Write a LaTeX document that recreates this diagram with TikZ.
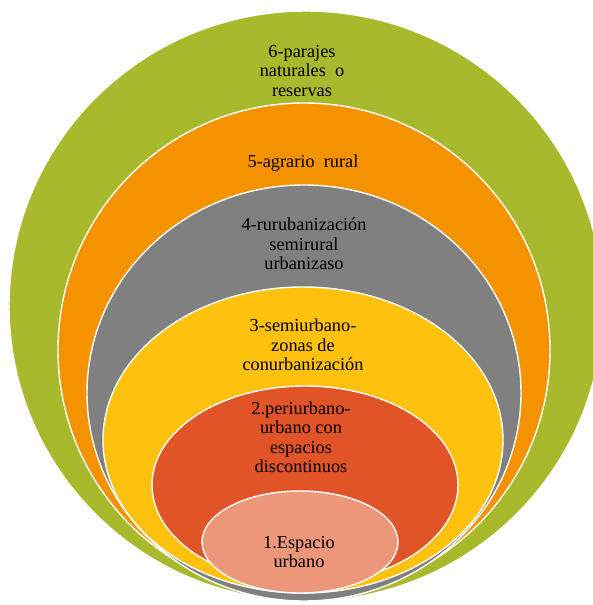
\documentclass[tikz,border=0pt]{standalone}
\usepackage{fontspec}
\setmainfont{Liberation Serif}
\definecolor{zgreen}{HTML}{A8B92C}
\definecolor{zorange}{HTML}{F59200}
\definecolor{zgray}{HTML}{808080}
\definecolor{zyellow}{HTML}{FEC10E}
\definecolor{zred}{HTML}{E05428}
\definecolor{zpink}{HTML}{EC967A}
\tikzset{
  ring/.style={draw=white, line width=1.4pt},
  label/.style={align=center, inner sep=0pt, text=black,
    font=\fontsize{18.3}{19.5}\selectfont},
}
\begin{document}
\begin{tikzpicture}[x=1pt, y=-1pt]
  \useasboundingbox (0,0) rectangle (593,605);
  % stacked zones, outermost first
  \fill[zgreen, ring]  (306,306) ellipse [x radius=297pt, y radius=295pt];
  \fill[zorange, ring] (304,350) ellipse [x radius=246pt, y radius=247pt];
  \fill[zgray, ring]   (304,393) ellipse [x radius=217pt, y radius=208pt];
  \fill[zyellow, ring] (303,440) ellipse [x radius=200pt, y radius=153pt];
  \fill[zred, ring]    (305,485) ellipse [x radius=153pt, y radius=99pt];
  \fill[zpink, ring]   (300,542) ellipse [x radius=98pt, y radius=51pt];
  % zone labels
  \node[label] (t6) at (302,71)  {6-parajes\\naturales\ \ o\\reservas};
  \node[label] (t5) at (303,163) {5-agrario\ \ rural};
  \node[label] (t4) at (304,244) {4-rurubanización\\semirural\\urbanizaso};
  \node[label] (t3) at (303,345) {3-semiurbano-\\zonas de\\conurbanización};
  \node[label] (t2) at (301,437) {2.periurbano-\\urbano con\\espacios\\discontinuos};
  \node[label] (t1) at (299,552) {1.Espacio\\urbano};
\end{tikzpicture}
\end{document}
